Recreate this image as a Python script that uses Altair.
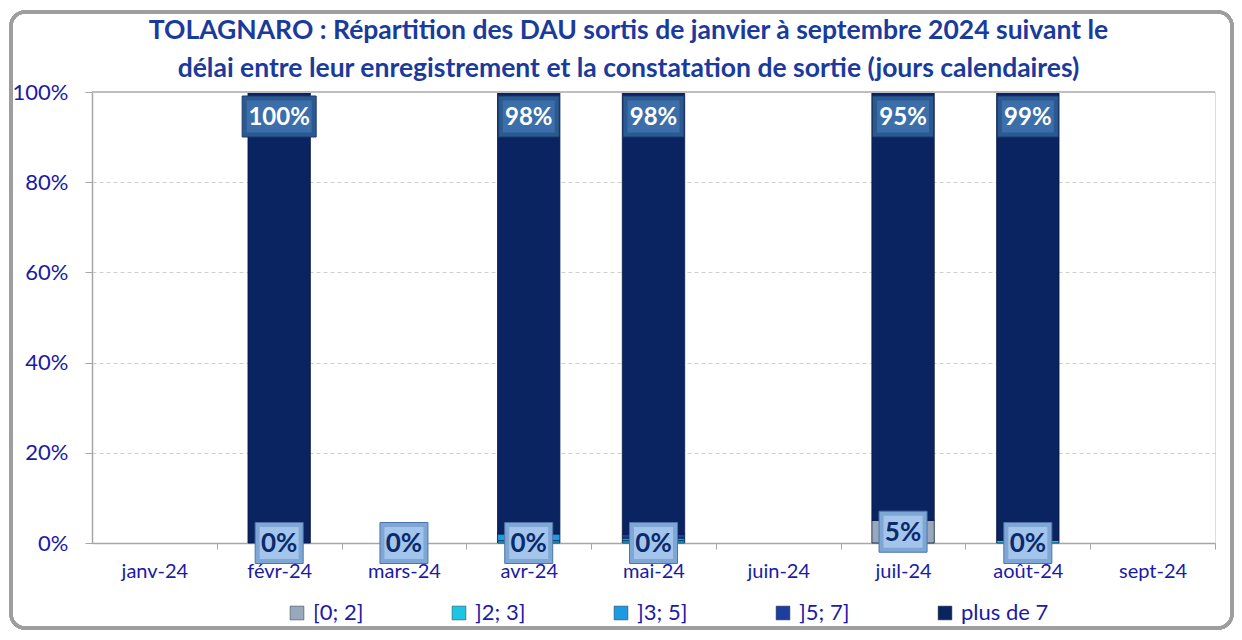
import altair as alt
import pandas as pd

months = ["janv-24", "févr-24", "mars-24", "avr-24", "mai-24", "juin-24", "juil-24", "août-24", "sept-24"]
series = ["[0; 2]", "]2; 3]", "]3; 5]", "]5; 7]", "plus de 7"]
colors = ["#98A9BC", "#1CC6E3", "#1B9BE3", "#1C3F9F", "#0A2361"]

s_0_2 = [None, 0.0, 0.0, 0.0, 0.0, None, 0.05, 0.0, None]
s_2_3 = [None, 0.0, None, 0.005, 0.005, None, 0.0, 0.006, None]
s_3_5 = [None, 0.0, None, 0.015, 0.006, None, 0.0, 0.0, None]
s_5_7 = [None, 0.0, None, 0.0, 0.009, None, 0.0, 0.0, None]
s_plus7 = [None, 1.0, None, 0.98, 0.98, None, 0.95, 0.994, None]

all_series = [s_0_2, s_2_3, s_3_5, s_5_7, s_plus7]

rows = []
for i, m in enumerate(months):
    for j, s in enumerate(series):
        v = all_series[j][i]
        if v is not None and v > 0:
            rows.append({"month": m, "series": s, "value": v, "order": j})
bars_df = pd.DataFrame(rows)

REF = 80.0
def box_path(w, h):
    hw = (w / 2) / (REF / 2)
    hh = (h / 2) / (REF / 2)
    return f"M{-hw:.4f},{-hh:.4f}L{hw:.4f},{-hh:.4f}L{hw:.4f},{hh:.4f}L{-hw:.4f},{hh:.4f}Z"

def box_w(label):
    return 13 * len(label) + 22

bottom_rows = []
for i, m in enumerate(months):
    v = s_0_2[i]
    if v is not None:
        lab = f"{round(v * 100):d}%"
        w = box_w(lab)
        bottom_rows.append({"month": m, "pos": v / 2, "label": lab,
                            "outer": box_path(w, 41), "inner": box_path(w - 9, 32)})
bottom_df = pd.DataFrame(bottom_rows)

top_rows = []
for i, m in enumerate(months):
    v = s_plus7[i]
    if v is not None and v > 0:
        total = sum((s[i] or 0) for s in all_series)
        lab = f"{int(v * 100 + 1e-9):d}%"
        w = box_w(lab)
        top_rows.append({"month": m, "pos": total, "label": lab,
                         "outer": box_path(w, 41), "inner": box_path(w - 9, 32)})
top_df = pd.DataFrame(top_rows)

FONT = "Lato"
AXIS_COLOR = "#1A1AA6"
STEP = 1123 / 9.0

x_scale = alt.Scale(domain=months, paddingInner=0.5, paddingOuter=0.25)
x_enc = alt.X("month:N", sort=months, scale=x_scale,
              axis=alt.Axis(title=None, labelAngle=0, labelFontSize=20, labelFont=FONT,
                            labelColor=AXIS_COLOR, labelPadding=12, tickOffset=STEP / 2,
                            labelOffset=-STEP / 2,
                            tickSize=6, tickColor="#A6A6A6", domainColor="#A6A6A6",
                            domainWidth=1.5, grid=False))
y_scale = alt.Scale(domain=[0, 1], nice=False)

bars = alt.Chart(bars_df).mark_bar(stroke="#07173F", strokeWidth=0.8).encode(
    x=x_enc,
    y=alt.Y("value:Q", stack="zero", scale=y_scale,
            axis=alt.Axis(title=None, format=".0%", values=[0, 0.2, 0.4, 0.6, 0.8, 1.0],
                          labelFontSize=22, labelFont=FONT, labelColor=AXIS_COLOR,
                          labelPadding=17, tickSize=7, tickColor="#A6A6A6",
                          domainColor="#A6A6A6", domainWidth=1.5,
                          grid=True, gridDash=[4, 3], gridColor="#CFCFCF")),
    color=alt.Color("series:N", scale=alt.Scale(domain=series, range=colors),
                    legend=alt.Legend(title=None, orient="none", legendX=194, legendY=510,
                                      direction="horizontal", columns=5, gridAlign="all",
                                      columnPadding=47, symbolType="square", symbolSize=190,
                                      symbolStrokeColor="#333333", symbolStrokeWidth=0.5,
                                      labelFontSize=22, labelFont=FONT, labelColor=AXIS_COLOR,
                                      labelOffset=5)),
    order=alt.Order("order:Q"),
)

top_line = alt.Chart(bars_df).mark_rule(color="#BDBDBD", strokeWidth=1.2).encode(
    y=alt.value(0), x=alt.value(0), x2=alt.value(1123))

def boxes(df, outer_fill, outer_stroke, inner_fill, text_color, yoff, fsize):
    base = alt.Chart(df).encode(
        x=alt.X("month:N", sort=months, scale=x_scale),
        y=alt.Y("pos:Q", scale=y_scale),
    )
    outer = base.mark_point(filled=True, opacity=1, fill=outer_fill, stroke=outer_stroke,
                            strokeWidth=1, size=REF * REF, yOffset=yoff).encode(
        shape=alt.Shape("outer:N", scale=None))
    inner = base.mark_point(filled=True, opacity=1, fill=inner_fill, strokeWidth=0,
                            size=REF * REF, yOffset=yoff).encode(
        shape=alt.Shape("inner:N", scale=None))
    txt = base.mark_text(font=FONT, fontSize=fsize, fontWeight="bold", color=text_color,
                         baseline="middle", align="center", yOffset=yoff + 1).encode(
        text="label:N")
    return outer + inner + txt

bottom_layer = boxes(bottom_df, "#7FA7D6", "#4F75A6", "#A3C5EC", "#0B2A6B", 0, 26)
top_layer = boxes(top_df, "#2B5A92", "#1B3B66", "#3C6FA9", "#FFFFFF", 24.5, 24)

frame = alt.Chart(bars_df).mark_rect(fill=None, stroke="#9E9E9E", strokeWidth=3,
                                     cornerRadius=14).encode(
    x=alt.value(-81), x2=alt.value(1140), y=alt.value(-80), y2=alt.value(536))

chart = alt.layer(frame, bars, top_line, bottom_layer, top_layer).properties(
    width=1123, height=451,
    autosize=alt.AutoSizeParams(type="none"),
    padding={"left": 84, "top": 84, "right": 19, "bottom": 89},
    title=alt.TitleParams(
        text=["TOLAGNARO : Répartition des DAU sortis de janvier à septembre 2024 suivant le",
              "délai entre leur enregistrement et la constatation de sortie (jours calendaires)"],
        font=FONT, fontSize=26.5, fontWeight="bold", color="#1A3A9C", lineHeight=38,
        anchor="middle", dx=-25, offset=-72),
).configure_view(stroke=None).configure(background="white")

chart.save("out.html", embed_options={"renderer": "svg", "actions": False})
